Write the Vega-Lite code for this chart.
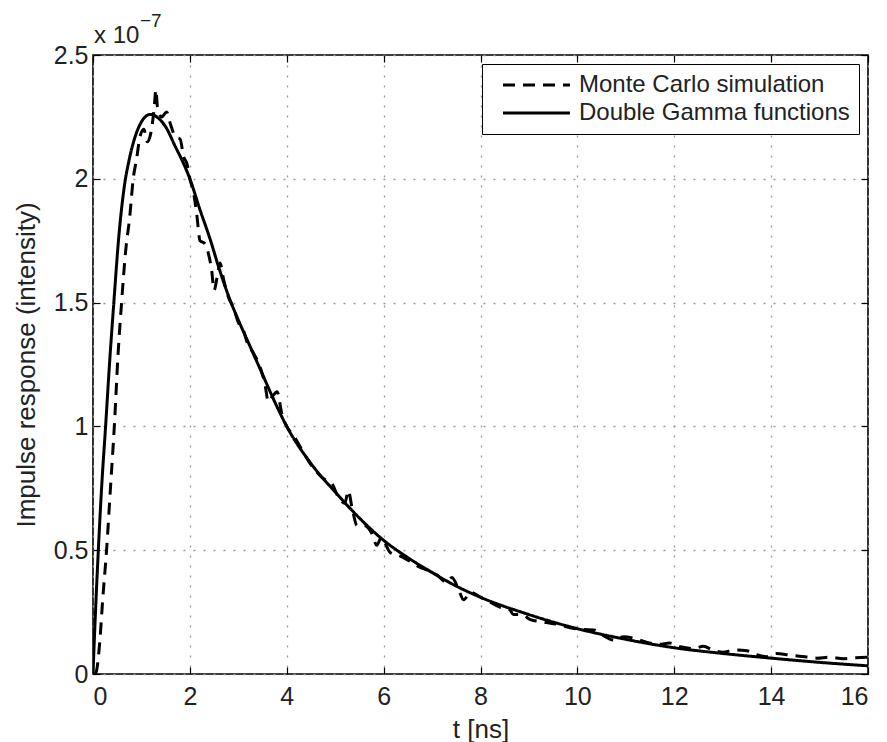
{
  "$schema": "https://vega.github.io/schema/vega-lite/v6.json",
  "width": 775,
  "height": 619,
  "autosize": {"type": "none"},
  "padding": {"left": 93, "top": 55, "right": 19, "bottom": 68},
  "background": "white",
  "config": {
    "font": "Liberation Sans",
    "view": {"stroke": "black", "strokeWidth": 1.6},
    "axis": {"labelFont": "Liberation Sans", "titleFont": "Liberation Sans", "labelFontSize": 25, "titleFontSize": 26, "titleFontWeight": "normal", "labelColor": "#222", "titleColor": "#222", "domain": false, "tickColor": "black", "tickWidth": 1.2, "gridColor": "#9a9a9a", "gridDash": [2, 8], "gridWidth": 1.3}
  },
  "datasets": {
    "curves": [
      {"t": 0, "v": 0, "series": "Double Gamma functions"},
      {"t": 0.03, "v": 0.15, "series": "Double Gamma functions"},
      {"t": 0.06, "v": 0.29, "series": "Double Gamma functions"},
      {"t": 0.11, "v": 0.5, "series": "Double Gamma functions"},
      {"t": 0.18, "v": 0.76, "series": "Double Gamma functions"},
      {"t": 0.26, "v": 1.0, "series": "Double Gamma functions"},
      {"t": 0.34, "v": 1.25, "series": "Double Gamma functions"},
      {"t": 0.43, "v": 1.5, "series": "Double Gamma functions"},
      {"t": 0.53, "v": 1.76, "series": "Double Gamma functions"},
      {"t": 0.64, "v": 1.96, "series": "Double Gamma functions"},
      {"t": 0.75, "v": 2.08, "series": "Double Gamma functions"},
      {"t": 0.87, "v": 2.17, "series": "Double Gamma functions"},
      {"t": 1.0, "v": 2.23, "series": "Double Gamma functions"},
      {"t": 1.18, "v": 2.26, "series": "Double Gamma functions"},
      {"t": 1.35, "v": 2.245, "series": "Double Gamma functions"},
      {"t": 1.5, "v": 2.21, "series": "Double Gamma functions"},
      {"t": 1.7, "v": 2.13, "series": "Double Gamma functions"},
      {"t": 1.85, "v": 2.07, "series": "Double Gamma functions"},
      {"t": 2.0, "v": 2.0, "series": "Double Gamma functions"},
      {"t": 2.2, "v": 1.88, "series": "Double Gamma functions"},
      {"t": 2.42, "v": 1.755, "series": "Double Gamma functions"},
      {"t": 2.6, "v": 1.64, "series": "Double Gamma functions"},
      {"t": 2.83, "v": 1.51, "series": "Double Gamma functions"},
      {"t": 3.0, "v": 1.43, "series": "Double Gamma functions"},
      {"t": 3.25, "v": 1.32, "series": "Double Gamma functions"},
      {"t": 3.5, "v": 1.21, "series": "Double Gamma functions"},
      {"t": 3.75, "v": 1.1, "series": "Double Gamma functions"},
      {"t": 4.0, "v": 1.0, "series": "Double Gamma functions"},
      {"t": 4.5, "v": 0.85, "series": "Double Gamma functions"},
      {"t": 5.0, "v": 0.735, "series": "Double Gamma functions"},
      {"t": 5.5, "v": 0.63, "series": "Double Gamma functions"},
      {"t": 6.0, "v": 0.54, "series": "Double Gamma functions"},
      {"t": 6.5, "v": 0.47, "series": "Double Gamma functions"},
      {"t": 7.0, "v": 0.41, "series": "Double Gamma functions"},
      {"t": 7.5, "v": 0.355, "series": "Double Gamma functions"},
      {"t": 8.0, "v": 0.31, "series": "Double Gamma functions"},
      {"t": 9.0, "v": 0.24, "series": "Double Gamma functions"},
      {"t": 10.0, "v": 0.183, "series": "Double Gamma functions"},
      {"t": 11.0, "v": 0.14, "series": "Double Gamma functions"},
      {"t": 12.0, "v": 0.106, "series": "Double Gamma functions"},
      {"t": 13.0, "v": 0.083, "series": "Double Gamma functions"},
      {"t": 14.0, "v": 0.064, "series": "Double Gamma functions"},
      {"t": 15.0, "v": 0.047, "series": "Double Gamma functions"},
      {"t": 16.0, "v": 0.033, "series": "Double Gamma functions"},
      {"t": 0.05, "v": 0, "series": "Monte Carlo simulation"},
      {"t": 0.08, "v": 0.02, "series": "Monte Carlo simulation"},
      {"t": 0.14, "v": 0.13, "series": "Monte Carlo simulation"},
      {"t": 0.2, "v": 0.3, "series": "Monte Carlo simulation"},
      {"t": 0.28, "v": 0.5, "series": "Monte Carlo simulation"},
      {"t": 0.36, "v": 0.75, "series": "Monte Carlo simulation"},
      {"t": 0.44, "v": 1.0, "series": "Monte Carlo simulation"},
      {"t": 0.52, "v": 1.3, "series": "Monte Carlo simulation"},
      {"t": 0.59, "v": 1.5, "series": "Monte Carlo simulation"},
      {"t": 0.67, "v": 1.7, "series": "Monte Carlo simulation"},
      {"t": 0.76, "v": 1.85, "series": "Monte Carlo simulation"},
      {"t": 0.83, "v": 2.0, "series": "Monte Carlo simulation"},
      {"t": 0.9, "v": 2.08, "series": "Monte Carlo simulation"},
      {"t": 0.97, "v": 2.17, "series": "Monte Carlo simulation"},
      {"t": 1.05, "v": 2.2, "series": "Monte Carlo simulation"},
      {"t": 1.12, "v": 2.15, "series": "Monte Carlo simulation"},
      {"t": 1.2, "v": 2.19, "series": "Monte Carlo simulation"},
      {"t": 1.26, "v": 2.28, "series": "Monte Carlo simulation"},
      {"t": 1.3, "v": 2.36, "series": "Monte Carlo simulation"},
      {"t": 1.33, "v": 2.29, "series": "Monte Carlo simulation"},
      {"t": 1.42, "v": 2.25, "series": "Monte Carlo simulation"},
      {"t": 1.52, "v": 2.27, "series": "Monte Carlo simulation"},
      {"t": 1.6, "v": 2.22, "series": "Monte Carlo simulation"},
      {"t": 1.7, "v": 2.17, "series": "Monte Carlo simulation"},
      {"t": 1.8, "v": 2.16, "series": "Monte Carlo simulation"},
      {"t": 1.87, "v": 2.09, "series": "Monte Carlo simulation"},
      {"t": 1.94, "v": 2.06, "series": "Monte Carlo simulation"},
      {"t": 2.0, "v": 2.0, "series": "Monte Carlo simulation"},
      {"t": 2.07, "v": 1.95, "series": "Monte Carlo simulation"},
      {"t": 2.14, "v": 1.86, "series": "Monte Carlo simulation"},
      {"t": 2.21, "v": 1.75, "series": "Monte Carlo simulation"},
      {"t": 2.3, "v": 1.74, "series": "Monte Carlo simulation"},
      {"t": 2.38, "v": 1.7, "series": "Monte Carlo simulation"},
      {"t": 2.45, "v": 1.63, "series": "Monte Carlo simulation"},
      {"t": 2.5, "v": 1.55, "series": "Monte Carlo simulation"},
      {"t": 2.56, "v": 1.6, "series": "Monte Carlo simulation"},
      {"t": 2.62, "v": 1.66, "series": "Monte Carlo simulation"},
      {"t": 2.7, "v": 1.59, "series": "Monte Carlo simulation"},
      {"t": 2.8, "v": 1.52, "series": "Monte Carlo simulation"},
      {"t": 2.9, "v": 1.48, "series": "Monte Carlo simulation"},
      {"t": 3.0, "v": 1.42, "series": "Monte Carlo simulation"},
      {"t": 3.1, "v": 1.39, "series": "Monte Carlo simulation"},
      {"t": 3.2, "v": 1.33, "series": "Monte Carlo simulation"},
      {"t": 3.3, "v": 1.3, "series": "Monte Carlo simulation"},
      {"t": 3.45, "v": 1.24, "series": "Monte Carlo simulation"},
      {"t": 3.55, "v": 1.17, "series": "Monte Carlo simulation"},
      {"t": 3.62, "v": 1.1, "series": "Monte Carlo simulation"},
      {"t": 3.7, "v": 1.12, "series": "Monte Carlo simulation"},
      {"t": 3.8, "v": 1.14, "series": "Monte Carlo simulation"},
      {"t": 3.9, "v": 1.05, "series": "Monte Carlo simulation"},
      {"t": 4.0, "v": 1.0, "series": "Monte Carlo simulation"},
      {"t": 4.15, "v": 0.96, "series": "Monte Carlo simulation"},
      {"t": 4.3, "v": 0.91, "series": "Monte Carlo simulation"},
      {"t": 4.45, "v": 0.86, "series": "Monte Carlo simulation"},
      {"t": 4.6, "v": 0.82, "series": "Monte Carlo simulation"},
      {"t": 4.75, "v": 0.79, "series": "Monte Carlo simulation"},
      {"t": 4.93, "v": 0.77, "series": "Monte Carlo simulation"},
      {"t": 5.05, "v": 0.72, "series": "Monte Carlo simulation"},
      {"t": 5.2, "v": 0.69, "series": "Monte Carlo simulation"},
      {"t": 5.27, "v": 0.74, "series": "Monte Carlo simulation"},
      {"t": 5.35, "v": 0.67, "series": "Monte Carlo simulation"},
      {"t": 5.45, "v": 0.6, "series": "Monte Carlo simulation"},
      {"t": 5.6, "v": 0.6, "series": "Monte Carlo simulation"},
      {"t": 5.75, "v": 0.57, "series": "Monte Carlo simulation"},
      {"t": 5.86, "v": 0.52, "series": "Monte Carlo simulation"},
      {"t": 5.95, "v": 0.55, "series": "Monte Carlo simulation"},
      {"t": 6.14, "v": 0.49, "series": "Monte Carlo simulation"},
      {"t": 6.3, "v": 0.48, "series": "Monte Carlo simulation"},
      {"t": 6.5, "v": 0.46, "series": "Monte Carlo simulation"},
      {"t": 6.76, "v": 0.43, "series": "Monte Carlo simulation"},
      {"t": 6.9, "v": 0.42, "series": "Monte Carlo simulation"},
      {"t": 7.1, "v": 0.4, "series": "Monte Carlo simulation"},
      {"t": 7.3, "v": 0.37, "series": "Monte Carlo simulation"},
      {"t": 7.41, "v": 0.39, "series": "Monte Carlo simulation"},
      {"t": 7.55, "v": 0.34, "series": "Monte Carlo simulation"},
      {"t": 7.65, "v": 0.3, "series": "Monte Carlo simulation"},
      {"t": 7.8, "v": 0.33, "series": "Monte Carlo simulation"},
      {"t": 8.0, "v": 0.31, "series": "Monte Carlo simulation"},
      {"t": 8.2, "v": 0.29, "series": "Monte Carlo simulation"},
      {"t": 8.4, "v": 0.27, "series": "Monte Carlo simulation"},
      {"t": 8.6, "v": 0.26, "series": "Monte Carlo simulation"},
      {"t": 8.68, "v": 0.24, "series": "Monte Carlo simulation"},
      {"t": 8.85, "v": 0.24, "series": "Monte Carlo simulation"},
      {"t": 9.03, "v": 0.22, "series": "Monte Carlo simulation"},
      {"t": 9.3, "v": 0.21, "series": "Monte Carlo simulation"},
      {"t": 9.6, "v": 0.2, "series": "Monte Carlo simulation"},
      {"t": 9.9, "v": 0.185, "series": "Monte Carlo simulation"},
      {"t": 10.1, "v": 0.18, "series": "Monte Carlo simulation"},
      {"t": 10.34, "v": 0.178, "series": "Monte Carlo simulation"},
      {"t": 10.5, "v": 0.16, "series": "Monte Carlo simulation"},
      {"t": 10.75, "v": 0.137, "series": "Monte Carlo simulation"},
      {"t": 10.95, "v": 0.15, "series": "Monte Carlo simulation"},
      {"t": 11.16, "v": 0.145, "series": "Monte Carlo simulation"},
      {"t": 11.4, "v": 0.13, "series": "Monte Carlo simulation"},
      {"t": 11.7, "v": 0.12, "series": "Monte Carlo simulation"},
      {"t": 11.9, "v": 0.125, "series": "Monte Carlo simulation"},
      {"t": 12.13, "v": 0.11, "series": "Monte Carlo simulation"},
      {"t": 12.4, "v": 0.103, "series": "Monte Carlo simulation"},
      {"t": 12.6, "v": 0.112, "series": "Monte Carlo simulation"},
      {"t": 12.8, "v": 0.096, "series": "Monte Carlo simulation"},
      {"t": 13.0, "v": 0.088, "series": "Monte Carlo simulation"},
      {"t": 13.25, "v": 0.097, "series": "Monte Carlo simulation"},
      {"t": 13.5, "v": 0.094, "series": "Monte Carlo simulation"},
      {"t": 13.7, "v": 0.078, "series": "Monte Carlo simulation"},
      {"t": 13.9, "v": 0.07, "series": "Monte Carlo simulation"},
      {"t": 14.1, "v": 0.083, "series": "Monte Carlo simulation"},
      {"t": 14.4, "v": 0.076, "series": "Monte Carlo simulation"},
      {"t": 14.7, "v": 0.07, "series": "Monte Carlo simulation"},
      {"t": 14.95, "v": 0.064, "series": "Monte Carlo simulation"},
      {"t": 15.2, "v": 0.068, "series": "Monte Carlo simulation"},
      {"t": 15.5, "v": 0.062, "series": "Monte Carlo simulation"},
      {"t": 15.75, "v": 0.066, "series": "Monte Carlo simulation"},
      {"t": 16.0, "v": 0.068, "series": "Monte Carlo simulation"}
    ]
  },
  "layer": [
    {
      "data": {"name": "curves"},
      "mark": {"type": "line", "strokeWidth": 3, "color": "black", "clip": true, "interpolate": "monotone"},
      "encoding": {
        "x": {"field": "t", "type": "quantitative", "scale": {"domain": [0, 16], "nice": false},
          "axis": {"values": [0, 2, 4, 6, 8, 10, 12, 14, 16], "title": "t [ns]", "tickSize": -7, "labelPadding": 17, "titlePadding": 7, "grid": true}},
        "y": {"field": "v", "type": "quantitative", "scale": {"domain": [0, 2.5], "nice": false},
          "axis": {"values": [0, 0.5, 1, 1.5, 2, 2.5], "format": "~g", "title": "Impulse response (intensity)", "tickSize": -7, "labelPadding": 12, "titlePadding": 14, "grid": true}},
        "strokeDash": {"field": "series", "type": "nominal",
          "scale": {"domain": ["Monte Carlo simulation", "Double Gamma functions"], "range": [[12, 8], [1, 0]]},
          "legend": {"title": null, "orient": "top-right", "offset": 9, "symbolType": "M0,0H8", "symbolSize": 280, "symbolStrokeWidth": 3, "symbolStrokeColor": "black", "labelFontSize": 24, "labelFont": "Liberation Sans", "labelColor": "#222", "labelOffset": 64, "labelLimit": 500, "rowPadding": 4, "strokeColor": "black", "fillColor": "white", "padding": 9, "cornerRadius": 0}},
        "detail": {"field": "series"}
      }
    },
    {
      "data": {"name": "curves"},
      "mark": {"type": "point", "opacity": 0},
      "encoding": {
        "x": {"field": "t", "type": "quantitative", "axis": {"orient": "top", "values": [0, 2, 4, 6, 8, 10, 12, 14, 16], "labels": false, "title": null, "tickSize": -7, "grid": false}},
        "y": {"field": "v", "type": "quantitative", "axis": {"orient": "right", "values": [0, 0.5, 1, 1.5, 2, 2.5], "labels": false, "title": null, "tickSize": -7, "grid": false}}
      }
    },
    {
      "data": {"values": [{"label": "x 10"}]},
      "mark": {"type": "text", "align": "left", "baseline": "alphabetic", "dx": 1, "dy": -12, "fontSize": 24, "font": "Liberation Sans", "color": "#222", "clip": false},
      "encoding": {
        "x": {"datum": 0, "type": "quantitative", "axis": null},
        "y": {"datum": 2.5, "type": "quantitative", "axis": null},
        "text": {"field": "label"}
      }
    },
    {
      "data": {"values": [{"label": "−7"}]},
      "mark": {"type": "text", "align": "left", "baseline": "alphabetic", "dx": 47, "dy": -28, "fontSize": 19, "font": "Liberation Sans", "color": "#222", "clip": false},
      "encoding": {
        "x": {"datum": 0, "type": "quantitative", "axis": null},
        "y": {"datum": 2.5, "type": "quantitative", "axis": null},
        "text": {"field": "label"}
      }
    }
  ],
  "resolve": {"axis": {"x": "independent", "y": "independent"}}
}
